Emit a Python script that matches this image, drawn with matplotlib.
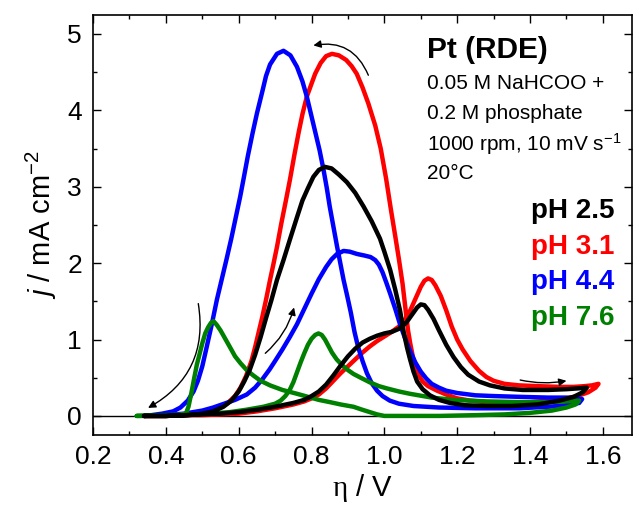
import numpy as np
import matplotlib
matplotlib.use("Agg")
import matplotlib.pyplot as plt

plt.rcParams['font.family'] = ['Liberation Sans', 'DejaVu Sans']
plt.rcParams['mathtext.fontset'] = 'custom'
plt.rcParams['mathtext.rm'] = 'Liberation Serif'
plt.rcParams['mathtext.it'] = 'Liberation Sans:italic'
plt.rcParams['mathtext.sf'] = 'Liberation Sans'

# pH 2.5 (black) - forward scan then backward scan
eta_25 = [0.34, 0.40, 0.45, 0.50, 0.55, 0.60, 0.65, 0.70, 0.75, 0.78, 0.80, 0.82, 0.84, 0.86, 0.88,
          0.90, 0.92, 0.94, 0.96, 0.98, 1.00, 1.02, 1.04, 1.06, 1.075, 1.09, 1.10, 1.11, 1.12, 1.135,
          1.15, 1.17, 1.19, 1.21, 1.23, 1.26, 1.29, 1.33, 1.38, 1.45, 1.50, 1.53, 1.556,
          1.545, 1.52, 1.48, 1.42, 1.35, 1.28, 1.22, 1.18, 1.15, 1.125, 1.105, 1.09, 1.08, 1.07,
          1.062, 1.053, 1.043, 1.03, 1.016, 1.00, 0.988, 0.965, 0.943, 0.92, 0.897, 0.875, 0.855,
          0.837, 0.82, 0.805, 0.79, 0.775, 0.76, 0.74, 0.723, 0.705, 0.69, 0.675, 0.66, 0.645, 0.63,
          0.615, 0.60, 0.58, 0.558, 0.53, 0.50, 0.46, 0.40, 0.34]
j_25 = [0.0, 0.0, 0.01, 0.02, 0.03, 0.05, 0.08, 0.12, 0.17, 0.21, 0.26, 0.32, 0.41, 0.53, 0.66,
        0.78, 0.88, 0.96, 1.01, 1.05, 1.08, 1.10, 1.14, 1.22, 1.32, 1.42, 1.46, 1.45, 1.39, 1.27,
        1.12, 0.93, 0.77, 0.64, 0.54, 0.45, 0.40, 0.36, 0.34, 0.34, 0.35, 0.36, 0.37,
        0.31, 0.25, 0.20, 0.15, 0.13, 0.13, 0.14, 0.17, 0.21, 0.27, 0.35, 0.45, 0.58, 0.75,
        0.90, 1.10, 1.38, 1.65, 1.91, 2.15, 2.32, 2.55, 2.74, 2.92, 3.06, 3.16, 3.24,
        3.26, 3.22, 3.13, 2.98, 2.82, 2.60, 2.30, 2.04, 1.78, 1.52, 1.28, 1.03, 0.80, 0.60,
        0.45, 0.32, 0.20, 0.12, 0.06, 0.03, 0.01, 0.0, 0.0]

# pH 3.1 (red)
eta_31 = [0.34, 0.40, 0.45, 0.50, 0.55, 0.60, 0.65, 0.70, 0.75, 0.78, 0.80, 0.82, 0.84, 0.86, 0.88,
          0.90, 0.92, 0.94, 0.96, 0.98, 1.00, 1.02, 1.04, 1.055, 1.07, 1.085, 1.10, 1.11, 1.12, 1.13,
          1.14, 1.155, 1.17, 1.185, 1.20, 1.215, 1.236, 1.26, 1.28, 1.30, 1.33, 1.37, 1.42, 1.48,
          1.52, 1.55, 1.57, 1.588,
          1.58, 1.56, 1.53, 1.50, 1.45, 1.40, 1.34, 1.28, 1.236, 1.20, 1.17, 1.145, 1.12, 1.105,
          1.095, 1.085, 1.078, 1.071, 1.065, 1.058, 1.05, 1.04, 1.03, 1.018, 1.005, 0.99, 0.975,
          0.956, 0.94, 0.924, 0.91, 0.895, 0.875, 0.856, 0.84, 0.825, 0.81, 0.80, 0.787, 0.775,
          0.765, 0.753, 0.741, 0.73, 0.717, 0.705, 0.695, 0.686, 0.675, 0.665, 0.655, 0.645, 0.635,
          0.62, 0.605, 0.59, 0.57, 0.55, 0.52, 0.50, 0.45, 0.40, 0.34]
j_31 = [0.0, 0.0, 0.01, 0.01, 0.02, 0.03, 0.06, 0.10, 0.15, 0.19, 0.23, 0.28, 0.36, 0.46, 0.56,
        0.65, 0.74, 0.83, 0.91, 0.98, 1.04, 1.10, 1.17, 1.25, 1.37, 1.53, 1.69, 1.77, 1.80, 1.78,
        1.71, 1.57, 1.38, 1.17, 1.00, 0.87, 0.72, 0.59, 0.51, 0.46, 0.42, 0.40, 0.39, 0.38,
        0.38, 0.39, 0.40, 0.42,
        0.37, 0.31, 0.26, 0.23, 0.20, 0.18, 0.18, 0.18, 0.20, 0.23, 0.28, 0.33, 0.39, 0.45,
        0.53, 0.65, 0.78, 0.95, 1.12, 1.40, 1.73, 2.05, 2.35, 2.70, 3.10, 3.50, 3.80,
        4.09, 4.30, 4.48, 4.58, 4.66, 4.72, 4.74, 4.71, 4.62, 4.48, 4.35, 4.18, 3.95,
        3.72, 3.42, 3.10, 2.83, 2.52, 2.21, 1.98, 1.78, 1.52, 1.30, 1.10, 0.90, 0.72,
        0.52, 0.37, 0.26, 0.17, 0.11, 0.06, 0.03, 0.01, 0.0, 0.0]

# pH 4.4 (blue)
eta_44 = [0.34, 0.40, 0.45, 0.50, 0.53, 0.56, 0.59, 0.622, 0.645, 0.665, 0.685, 0.70, 0.72, 0.74,
          0.76, 0.78, 0.80, 0.82, 0.84, 0.855, 0.87, 0.888, 0.905, 0.925, 0.945, 0.962, 0.975, 0.985,
          0.995, 1.005, 1.016, 1.03, 1.043, 1.055, 1.068, 1.085, 1.10, 1.115, 1.13, 1.15, 1.17, 1.20,
          1.25, 1.30, 1.37, 1.45, 1.50, 1.53, 1.543,
          1.535, 1.50, 1.45, 1.37, 1.25, 1.15, 1.08, 1.04, 1.015, 0.995, 0.98, 0.965, 0.952, 0.94,
          0.928, 0.918, 0.908, 0.898, 0.888, 0.879, 0.87, 0.86, 0.85, 0.842, 0.833, 0.822, 0.81,
          0.798, 0.787, 0.775, 0.76, 0.742, 0.723, 0.705, 0.686, 0.675, 0.665, 0.65, 0.638, 0.625,
          0.614, 0.604, 0.592, 0.58, 0.567, 0.553, 0.54, 0.527, 0.512, 0.50, 0.488, 0.476, 0.46,
          0.44, 0.42, 0.39, 0.36, 0.34]
j_44 = [0.0, 0.01, 0.03, 0.07, 0.11, 0.16, 0.21, 0.28, 0.37, 0.48, 0.61, 0.72, 0.87, 1.03,
        1.20, 1.40, 1.60, 1.79, 1.95, 2.05, 2.12, 2.16, 2.15, 2.12, 2.10, 2.08, 2.04, 1.98,
        1.88, 1.75, 1.60, 1.40, 1.20, 1.04, 0.88, 0.70, 0.58, 0.49, 0.42, 0.37, 0.33, 0.30,
        0.27, 0.26, 0.25, 0.24, 0.24, 0.23, 0.22,
        0.17, 0.14, 0.12, 0.10, 0.10, 0.11, 0.13, 0.16, 0.20, 0.26, 0.33, 0.43, 0.56, 0.72,
        0.90, 1.10, 1.35, 1.57, 1.78, 2.00, 2.22, 2.48, 2.74, 2.98, 3.22, 3.48, 3.72,
        3.96, 4.18, 4.38, 4.57, 4.72, 4.78, 4.74, 4.60, 4.45, 4.25, 3.96, 3.70, 3.40,
        3.12, 2.87, 2.60, 2.33, 2.06, 1.78, 1.52, 1.22, 0.90, 0.65, 0.46, 0.32, 0.20,
        0.11, 0.06, 0.03, 0.01, 0.0]

# pH 7.6 (green)
eta_76 = [0.32, 0.40, 0.466, 0.52, 0.576, 0.62, 0.668, 0.70, 0.715, 0.728, 0.74, 0.75, 0.76, 0.77,
          0.78, 0.79, 0.80, 0.81, 0.819, 0.828, 0.837, 0.846, 0.856, 0.869, 0.885, 0.90, 0.915, 0.935,
          0.96, 0.985, 1.007, 1.04, 1.07, 1.13, 1.19, 1.28, 1.37, 1.45, 1.50, 1.535,
          1.525, 1.50, 1.46, 1.40, 1.33, 1.25, 1.15, 1.05, 1.00, 0.98, 0.96, 0.94, 0.915, 0.88,
          0.851, 0.82, 0.79, 0.76, 0.72, 0.686, 0.66, 0.64, 0.622, 0.605, 0.59, 0.576, 0.563, 0.55,
          0.54, 0.531, 0.524, 0.516, 0.508, 0.50, 0.492, 0.485, 0.478, 0.47, 0.462, 0.455, 0.44,
          0.40, 0.32]
j_76 = [0.0, 0.01, 0.02, 0.03, 0.05, 0.08, 0.12, 0.16, 0.20, 0.26, 0.34, 0.44, 0.57, 0.70,
        0.82, 0.93, 1.01, 1.06, 1.08, 1.06, 1.00, 0.92, 0.83, 0.74, 0.66, 0.60, 0.55, 0.50,
        0.44, 0.39, 0.36, 0.32, 0.29, 0.24, 0.21, 0.19, 0.18, 0.18, 0.19, 0.20,
        0.15, 0.11, 0.07, 0.04, 0.02, 0.01, 0.0, 0.0, 0.0, 0.02, 0.05, 0.08, 0.12, 0.15,
        0.18, 0.21, 0.25, 0.29, 0.34, 0.40, 0.46, 0.53, 0.60, 0.69, 0.78, 0.90, 1.01, 1.12,
        1.19, 1.24, 1.22, 1.16, 1.08, 0.95, 0.80, 0.67, 0.50, 0.30, 0.12, 0.03, 0.01,
        0.0, 0.0]

series = [
    ('pH 3.1', eta_31, j_31, 'red'),
    ('pH 4.4', eta_44, j_44, 'blue'),
    ('pH 7.6', eta_76, j_76, 'green'),
    ('pH 2.5', eta_25, j_25, 'black'),
]
legend_order = ['pH 2.5', 'pH 3.1', 'pH 4.4', 'pH 7.6']
legend_colors = ['black', 'red', 'blue', 'green']

# scan direction arrows: (start, end, curvature)
arrows = [
    ((0.956, 4.46), (0.805, 4.85), 0.4),
    ((0.489, 1.47), (0.351, 0.105), -0.35),
    ((0.673, 0.82), (0.752, 1.42), 0.15),
    ((1.373, 0.47), (1.50, 0.46), 0.1),
]

info_lines = ['0.05 M NaHCOO +', '0.2 M phosphate',
              r'1000 rpm, 10 mV s$^{\mathsf{-1}}$', '20°C']

fig = plt.figure(figsize=(6.33, 5.13), dpi=100)
ax = fig.add_axes([0.147, 0.152, 0.8514, 0.819])

ax.axhline(0, color='black', lw=1.0, zorder=1)
for name, x, y, c in series:
    ax.plot(x, y, color=c, lw=3.2, solid_joinstyle='round', solid_capstyle='round', zorder=2)

for (x0, y0), (x1, y1), rad in arrows:
    ax.annotate('', xy=(x1, y1), xytext=(x0, y0),
                arrowprops=dict(arrowstyle='-|>', color='black', lw=1.0, mutation_scale=11,
                                shrinkA=0, shrinkB=0, connectionstyle=f'arc3,rad={rad}'))

ax.set_xlim(0.2, 1.68)
ax.set_ylim(-0.25, 5.25)
ax.set_xticks(np.arange(0.2, 1.61, 0.2))
ax.set_xticks(np.arange(0.3, 1.68, 0.2), minor=True)
ax.set_yticks(range(0, 6))
ax.set_yticks(np.arange(0.5, 5.1, 1.0), minor=True)
ax.xaxis.set_major_formatter(matplotlib.ticker.FormatStrFormatter('%.1f'))
ax.tick_params(which='both', direction='in', top=True, right=True, labelsize=19, width=1.0)
ax.tick_params(which='major', length=5.5)
ax.tick_params(which='minor', length=3)
ax.tick_params(axis='x', pad=7)
ax.tick_params(axis='y', pad=8)
for s in ax.spines.values():
    s.set_linewidth(1.2)

ax.set_xlabel(r'$\mathrm{\eta}$ / V', fontsize=21, labelpad=2)
ax.set_ylabel(r'$j$ / mA cm$^{\mathsf{-2}}$', fontsize=21, labelpad=6)

ax.text(0.619, 0.917, 'Pt (RDE)', transform=ax.transAxes, fontsize=21.5, fontweight='bold',
        ha='left', va='center')
for i, line in enumerate(info_lines):
    ax.text(0.619, 0.836 - i * 0.0715, line, transform=ax.transAxes, fontsize=15,
            ha='left', va='center')
for i, (lab, c) in enumerate(zip(legend_order, legend_colors)):
    ax.text(0.968, 0.533 - i * 0.0845, lab, transform=ax.transAxes, fontsize=20,
            fontweight='bold', color=c, ha='right', va='center')

fig.savefig('out.png', dpi=100)
